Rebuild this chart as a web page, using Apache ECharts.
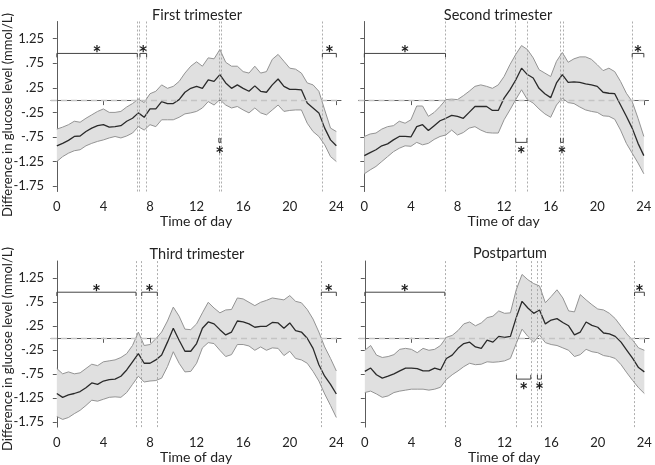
<!DOCTYPE html>
<html><head><meta charset="utf-8">
<script src="https://cdn.jsdelivr.net/npm/echarts@6/dist/echarts.min.js"></script>
<style>html,body{margin:0;padding:0;background:#fff}#c{width:655px;height:465px}</style>
</head><body><div id="c"></div>
<script>
const hours = [0,0.5,1,1.5,2,2.5,3,3.5,4,4.5,5,5.5,6,6.5,7,7.5,8,8.5,9,9.5,10,10.5,11,11.5,12,12.5,13,13.5,14,14.5,15,15.5,16,16.5,17,17.5,18,18.5,19,19.5,20,20.5,21,21.5,22,22.5,23,23.5,24];
const xTicks = [0,4,8,12,16,20,24];
const yTicks = [-1.75,-1.25,-0.75,-0.25,0.25,0.75,1.25];
const titles = ['First trimester','Second trimester','Third trimester','Postpartum'];

const mean1 = [-0.93,-0.88,-0.82,-0.74,-0.73,-0.64,-0.57,-0.52,-0.50,-0.55,-0.54,-0.52,-0.43,-0.37,-0.26,-0.35,-0.18,-0.18,-0.03,-0.07,-0.07,0.01,0.16,0.24,0.28,0.24,0.41,0.38,0.52,0.35,0.24,0.31,0.24,0.18,0.29,0.18,0.16,0.31,0.43,0.28,0.22,0.22,0.21,-0.06,-0.16,-0.26,-0.57,-0.81,-0.93];
const upper1 = [-0.59,-0.55,-0.50,-0.43,-0.45,-0.37,-0.30,-0.23,-0.18,-0.25,-0.25,-0.23,-0.14,-0.07,0.02,-0.05,0.13,0.18,0.31,0.24,0.28,0.38,0.55,0.69,0.78,0.69,0.86,0.84,1.03,0.77,0.69,0.69,0.58,0.55,0.69,0.55,0.58,0.83,0.93,0.79,0.65,0.63,0.55,0.35,0.31,0.18,-0.20,-0.57,-0.64];
const lower1 = [-1.25,-1.15,-1.08,-1.03,-1.01,-0.93,-0.88,-0.84,-0.81,-0.77,-0.74,-0.77,-0.73,-0.67,-0.54,-0.61,-0.50,-0.54,-0.40,-0.40,-0.40,-0.35,-0.28,-0.26,-0.23,-0.16,-0.03,-0.10,0.01,-0.10,-0.16,-0.13,-0.20,-0.26,-0.16,-0.26,-0.30,-0.20,-0.10,-0.23,-0.21,-0.20,-0.20,-0.47,-0.64,-0.74,-0.91,-1.15,-1.25];

const mean2 = [-1.13,-1.07,-1.01,-0.93,-0.89,-0.81,-0.74,-0.74,-0.75,-0.54,-0.50,-0.62,-0.52,-0.42,-0.37,-0.31,-0.33,-0.37,-0.25,-0.13,-0.13,-0.13,-0.21,-0.21,0.04,0.21,0.41,0.65,0.52,0.45,0.24,0.13,0.05,0.35,0.52,0.36,0.37,0.36,0.33,0.31,0.28,0.16,0.14,0.13,-0.10,-0.33,-0.57,-0.88,-1.13];
const upper2 = [-0.74,-0.69,-0.67,-0.59,-0.54,-0.52,-0.43,-0.47,-0.40,-0.12,-0.12,-0.33,-0.25,-0.13,0.01,0.02,0.01,0.09,0.18,0.28,0.31,0.28,0.24,0.31,0.48,0.72,0.93,1.11,1.03,0.86,0.62,0.55,0.48,0.79,0.97,0.77,0.84,0.88,0.88,0.83,0.72,0.60,0.65,0.58,0.38,0.14,-0.03,-0.37,-0.74];
const lower2 = [-1.50,-1.42,-1.35,-1.25,-1.15,-1.05,-0.98,-0.93,-0.94,-0.86,-0.91,-0.88,-0.80,-0.74,-0.71,-0.61,-0.71,-0.66,-0.57,-0.54,-0.61,-0.66,-0.67,-0.67,-0.40,-0.20,0.01,0.21,0.01,-0.06,-0.18,-0.28,-0.35,-0.10,0.04,-0.05,-0.07,-0.14,-0.20,-0.23,-0.25,-0.32,-0.33,-0.39,-0.61,-0.88,-1.08,-1.28,-1.50];

const mean3 = [-1.16,-1.24,-1.19,-1.16,-1.12,-1.04,-0.94,-0.97,-0.90,-0.87,-0.86,-0.80,-0.67,-0.50,-0.33,-0.53,-0.53,-0.46,-0.36,-0.09,0.20,-0.05,-0.28,-0.28,-0.12,0.20,0.33,0.29,0.17,0.06,0.12,0.35,0.33,0.29,0.22,0.24,0.24,0.32,0.31,0.20,0.31,0.15,0.12,-0.01,-0.22,-0.56,-0.80,-0.97,-1.17];
const upper3 = [-0.64,-0.75,-0.71,-0.75,-0.73,-0.64,-0.55,-0.58,-0.50,-0.48,-0.46,-0.41,-0.33,-0.16,0.12,-0.16,-0.14,-0.02,0.12,0.35,0.64,0.45,0.18,0.17,0.29,0.52,0.74,0.62,0.52,0.58,0.59,0.83,0.81,0.74,0.67,0.74,0.78,0.83,0.81,0.79,0.88,0.76,0.73,0.59,0.39,0.12,-0.19,-0.43,-0.69];
const lower3 = [-1.64,-1.70,-1.66,-1.58,-1.51,-1.41,-1.30,-1.32,-1.28,-1.24,-1.23,-1.24,-1.14,-0.97,-0.80,-0.92,-0.90,-0.89,-0.84,-0.60,-0.29,-0.53,-0.71,-0.70,-0.53,-0.21,-0.10,-0.12,-0.26,-0.39,-0.35,-0.14,-0.14,-0.17,-0.26,-0.19,-0.26,-0.21,-0.22,-0.37,-0.28,-0.43,-0.46,-0.53,-0.70,-0.90,-1.17,-1.41,-1.66];

const mean4 = [-0.70,-0.63,-0.77,-0.84,-0.80,-0.75,-0.69,-0.63,-0.63,-0.64,-0.69,-0.69,-0.63,-0.67,-0.43,-0.36,-0.22,-0.12,-0.09,-0.19,-0.22,-0.05,-0.09,0.03,0.01,0.03,0.42,0.76,0.62,0.51,0.58,0.29,0.37,0.40,0.32,0.25,0.06,0.12,0.33,0.26,0.22,0.10,0.08,0.03,-0.09,-0.26,-0.43,-0.62,-0.71];
const upper4 = [-0.26,-0.16,-0.36,-0.41,-0.39,-0.35,-0.24,-0.22,-0.24,-0.31,-0.22,-0.26,-0.24,-0.16,0.01,0.05,0.15,0.29,0.33,0.25,0.31,0.42,0.45,0.56,0.51,0.52,1.00,1.32,1.21,1.13,1.08,0.73,0.86,1.00,0.83,0.56,0.54,0.90,0.79,0.69,0.60,0.58,0.51,0.40,0.24,0.08,-0.05,-0.21,-0.26];
const lower4 = [-1.14,-1.11,-1.17,-1.24,-1.21,-1.14,-1.11,-1.09,-1.07,-1.07,-1.07,-1.09,-1.07,-1.03,-0.87,-0.77,-0.69,-0.60,-0.53,-0.56,-0.55,-0.50,-0.51,-0.50,-0.48,-0.43,-0.12,0.18,0.03,-0.09,0.06,-0.10,-0.14,-0.16,-0.21,-0.26,-0.39,-0.35,-0.24,-0.29,-0.31,-0.37,-0.39,-0.43,-0.56,-0.73,-0.89,-1.04,-1.16];

// significance intervals (hours)
const sigTop1 = [[0,6.91],[7.14,7.71],[22.8,24]];
const sigBot1 = [[13.91,14.08]];
const vlines1 = [6.91,7.1,7.71,13.91,14.08,22.8];
const sigTop2 = [[0,6.97],[23.0,24]];
const sigBot2 = [[13.0,13.96],[16.85,17.08]];
const vlines2 = [6.97,13.0,13.96,16.85,17.08,23.0];
const sigTop3 = [[0,6.8],[7.29,8.63],[22.71,24]];
const sigBot3 = [];
const vlines3 = [6.8,7.29,8.63,22.71];
const sigTop4 = [[0,6.87],[23.16,24]];
const sigBot4 = [[13.02,14.25],[14.82,15.16]];
const vlines4 = [6.87,13.02,14.25,14.82,15.16,23.16];

const panels = [
  {mean:mean1, upper:upper1, lower:lower1, top:sigTop1, bot:sigBot1, vl:vlines1},
  {mean:mean2, upper:upper2, lower:lower2, top:sigTop2, bot:sigBot2, vl:vlines2},
  {mean:mean3, upper:upper3, lower:lower3, top:sigTop3, bot:sigBot3, vl:vlines3},
  {mean:mean4, upper:upper4, lower:lower4, top:sigTop4, bot:sigBot4, vl:vlines4}
];

const FONT = 'Lato, "Noto Sans", sans-serif';
const AX = '#5c5c5c';
const gridPos = [
  {left:51, top:21.5, width:290, height:170},
  {left:358.5, top:21.5, width:290, height:170},
  {left:51, top:261, width:290, height:170},
  {left:359, top:261, width:290, height:170}
];
const titlePos = [[192,3],[493,3],[192,242],[505,241]];

function fmt(v){ return v.toFixed(2).replace(/^(-?)0\./,'$1.'); }

const grid=[], xAxis=[], yAxis=[], series=[], title=[];
panels.forEach((p,k)=>{
  grid.push(Object.assign({containLabel:false}, gridPos[k]));
  title.push({text:titles[k], left:titlePos[k][0], top:titlePos[k][1], textAlign:'center',
    textStyle:{fontFamily:FONT, fontSize:14.5, fontWeight:'normal', color:'#222'}});
  xAxis.push({type:'value', gridIndex:k, min:-0.5, max:24.4,
    name:'Time of day', nameLocation:'middle', nameGap:19,
    nameTextStyle:{fontFamily:FONT, fontSize:14, color:'#222'},
    axisLine:{show:true, lineStyle:{color:AX, width:1}},
    axisTick:{show:true, length:5, customValues:xTicks, lineStyle:{color:AX}},
    axisLabel:{customValues:xTicks, fontFamily:FONT, fontSize:13, color:'#222', margin:9},
    splitLine:{show:false}});
  const showLab = (k%2===0);
  yAxis.push({type:'value', gridIndex:k, min:-1.86, max:1.6,
    axisLine:{show:true, lineStyle:{color:AX, width:1}},
    axisTick:{show:true, length:4, customValues:yTicks, lineStyle:{color:AX}},
    axisLabel:{show:showLab, customValues:yTicks, formatter:fmt, fontFamily:FONT, fontSize:13, color:'#222', margin:7},
    splitLine:{show:false}});

  const band = hours.map((t,i)=>[t, p.lower[i], p.upper[i]]);
  series.push({type:'custom', xAxisIndex:k, yAxisIndex:k, z:1, silent:true, clip:false,
    data: band,
    renderItem:(params, api)=>{
      if (params.dataIndex !== 0) return null;
      const pts = [];
      for (let i=0;i<band.length;i++) pts.push(api.coord([band[i][0], band[i][2]]));
      for (let i=band.length-1;i>=0;i--) pts.push(api.coord([band[i][0], band[i][1]]));
      return {type:'polygon', shape:{points:pts}, style:{fill:'#e0e0e0', stroke:null}};
    }});
  // reference lines
  series.push({type:'line', xAxisIndex:k, yAxisIndex:k, z:2, data:[], silent:true,
    markLine:{silent:true, symbol:['none','none'], label:{show:false}, animation:false,
      data: p.vl.map(v=>({xAxis:v, lineStyle:{color:'#9a9a9a', type:[2,2], width:0.8}}))
        .concat([{yAxis:0, lineStyle:{color:'#c4c4c4', type:[6,4], width:1.3}}])}});
  series.push({type:'line', xAxisIndex:k, yAxisIndex:k, z:3, symbol:'none', silent:true,
    data: hours.map((t,i)=>[t,p.upper[i]]), lineStyle:{color:'#949494', width:1}});
  series.push({type:'line', xAxisIndex:k, yAxisIndex:k, z:3, symbol:'none', silent:true,
    data: hours.map((t,i)=>[t,p.lower[i]]), lineStyle:{color:'#949494', width:1}});
  series.push({type:'line', xAxisIndex:k, yAxisIndex:k, z:4, symbol:'none', silent:true,
    data: hours.map((t,i)=>[t,p.mean[i]]), lineStyle:{color:'#2a2a2a', width:1.3}});
  // brackets
  const mk = (arr, up)=>({type:'custom', xAxisIndex:k, yAxisIndex:k, z:5, silent:true, clip:false,
    encode:{x:[0,1]}, data:arr,
    renderItem:(params, api)=>{
      const x1=api.value(0), x2=api.value(1);
      const barY = up ? 0.95 : -0.86, tickY = up ? 0.87 : -0.77, starY = up ? 1.05 : -1.0;
      const a=api.coord([x1,tickY]), b=api.coord([x1,barY]), c=api.coord([x2,barY]), d=api.coord([x2,tickY]);
      const s=api.coord([(x1+x2)/2, starY]);
      return {type:'group', children:[
        {type:'polyline', shape:{points:[a,b,c,d]}, style:{stroke:'#444', lineWidth:1, fill:null}},
        {type:'text', x:s[0], y:s[1]+5.5, style:{text:'*', font:'bold 21px '+FONT, fill:'#1e1e1e', align:'center', verticalAlign:'middle'}}
      ]};
    }});
  if (p.top.length) series.push(mk(p.top, true));
  if (p.bot.length) series.push(mk(p.bot, false));
});

const chart = echarts.init(document.getElementById('c'), null, {renderer:'canvas'});
chart.setOption({
  animation:false, backgroundColor:'#fff',
  title, grid, xAxis, yAxis, series,
  graphic:[
    {type:'text', x:8, y:115, rotation:Math.PI/2, style:{text:'Difference in glucose level (mmol/L)', font:'13px '+FONT, fill:'#222', align:'center', verticalAlign:'middle'}},
    {type:'text', x:8, y:349, rotation:Math.PI/2, style:{text:'Difference in glucose level (mmol/L)', font:'13px '+FONT, fill:'#222', align:'center', verticalAlign:'middle'}}
  ]
});
</script></body></html>
